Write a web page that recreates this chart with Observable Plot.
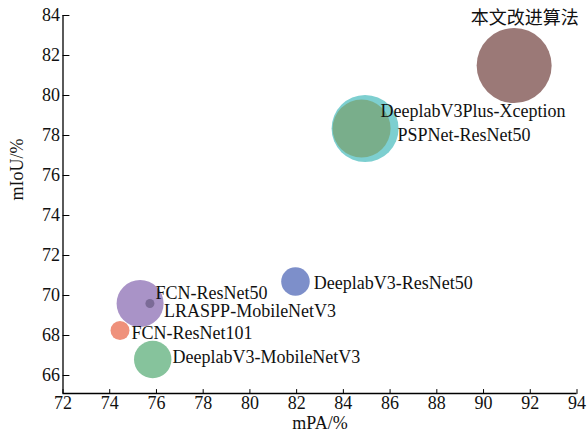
<!DOCTYPE html>
<html><head><meta charset="utf-8">
<script src="https://cdn.jsdelivr.net/npm/d3@7"></script>
<script src="https://cdn.jsdelivr.net/npm/@observablehq/plot@0.6"></script>
<style>body{margin:0;background:#fff} #chart svg{display:block}</style>
</head><body><div id="chart"></div>
<script>
// Data (draw order)
const models = ["本文改进算法", "DeeplabV3Plus-Xception", "PSPNet-ResNet50", "DeeplabV3-ResNet50",
                "LRASPP-MobileNetV3", "FCN-ResNet50", "FCN-ResNet101", "DeeplabV3-MobileNetV3"];
const mPA  = [91.31, 84.93, 84.78, 81.95, 75.30, 75.72, 74.44, 75.84];
const mIoU = [81.50, 78.35, 78.35, 70.70, 69.60, 69.60, 68.25, 66.80];
const bubble = [100, 79.8, 59.8, 14.5, 39.3, 1.44, 6.4, 24.9];
const colors = ["#9b7977", "#7dcfd0", "#79ae8b", "#7d8fca", "#a993c7", "#7b6b97", "#ef917b", "#86c39c"];
const xTicks = [72, 74, 76, 78, 80, 82, 84, 86, 88, 90, 92, 94];
const yTicks = [66, 68, 70, 72, 74, 76, 78, 80, 82, 84];
const xLabel = "mPA/%";
const yLabel = "mIoU/%";

const data = models.map((m, i) => ({model: m, x: mPA[i], y: mIoU[i], s: bubble[i], c: colors[i]}));

// label placement (styling)
const labelOffsets = {
  "本文改进算法": {dx: 10.5, dy: -46.8, anchor: "middle"},
  "DeeplabV3Plus-Xception": {dx: 15.5, dy: -16.8, anchor: "start"},
  "PSPNet-ResNet50": {dx: 36, dy: 7.2, anchor: "start"},
  "DeeplabV3-ResNet50": {dx: 18.3, dy: 1.5, anchor: "start"},
  "LRASPP-MobileNetV3": {dx: 24, dy: 8.2, anchor: "start"},
  "FCN-ResNet50": {dx: 5.5, dy: -9.8, anchor: "start"},
  "FCN-ResNet101": {dx: 11.5, dy: 3.2, anchor: "start"},
  "DeeplabV3-MobileNetV3": {dx: 19.7, dy: -1.8, anchor: "start"}
};

const font = "'Liberation Serif', 'Times New Roman', 'Noto Sans CJK SC', serif";
const tickShape = {draw(context, l) { context.moveTo(0, 0); context.lineTo(0, -l); }};
const xDomain = [72, 94];
const yDomain = [65.1, 84];

const labelMarks = data.map(d => {
  const o = labelOffsets[d.model];
  return Plot.text([d], {x: "x", y: "y", text: "model", dx: o.dx, dy: o.dy, textAnchor: o.anchor,
    fill: "#111", fontSize: 18, lineAnchor: "middle"});
});

const chart = Plot.plot({
  width: 588,
  height: 438,
  marginLeft: 62.5,
  marginRight: 11.5,
  marginTop: 15,
  marginBottom: 45,
  style: {fontFamily: font, fontSize: "18px", background: "#fff", color: "#111"},
  x: {domain: xDomain},
  y: {domain: yDomain},
  r: {type: "sqrt", domain: [0, 100], range: [0, 37.5]},
  marks: [
    Plot.axisX({ticks: xTicks, tickSize: 0, tickPadding: 3, label: null, fontSize: 18}),
    Plot.axisY({ticks: yTicks, tickSize: 0, tickPadding: 3, label: null, fontSize: 18}),
    Plot.vector(xTicks, {x: d => d, frameAnchor: "bottom", length: 4, rotate: 0, anchor: "start", shape: tickShape, stroke: "#000", strokeWidth: 1}),
    Plot.vector(yTicks, {y: d => d, frameAnchor: "left", length: 6, rotate: 90, anchor: "start", shape: tickShape, stroke: "#000", strokeWidth: 1}),
    Plot.ruleY([yDomain[0]], {stroke: "#000", strokeWidth: 1.3}),
    Plot.ruleX([xDomain[0]], {stroke: "#000", strokeWidth: 1.3}),
    Plot.dot(data, {x: "x", y: "y", r: "s", fill: "c", stroke: null}),
    ...labelMarks,
    Plot.text([xLabel], {frameAnchor: "bottom", dy: 35.5, fontSize: 18, fill: "#111"}),
    Plot.text([yLabel], {frameAnchor: "left", rotate: -90, dx: -45.5, dy: -4, fontSize: 18, fill: "#111"})
  ]
});
document.getElementById("chart").appendChild(chart);
</script>
</body></html>
